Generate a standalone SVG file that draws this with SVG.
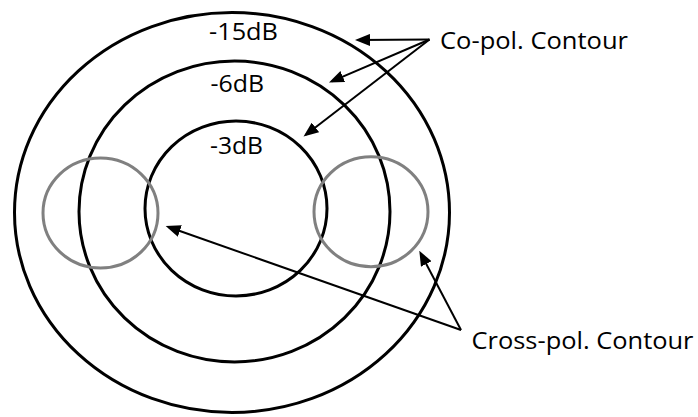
<svg xmlns="http://www.w3.org/2000/svg" width="698" height="417" viewBox="0 0 698 417">
<style>
.co{fill:none;stroke:#000;stroke-width:3}
.xp{fill:none;stroke:#808080;stroke-width:3}
.lbl{font-family:"Open Sans","Liberation Sans",sans-serif;font-size:23px;fill:#000}
.ar{fill:none;stroke:#000;stroke-width:2;marker-end:url(#ah)}
</style>
<defs>
<marker id="ah" markerUnits="userSpaceOnUse" markerWidth="15" markerHeight="12" refX="12" refY="6" orient="auto" viewBox="0 0 15 12">
<path d="M0,0 L15,6 L0,12 z" fill="#000"/>
</marker>
</defs>
<rect width="698" height="417" fill="#fff"/>
<g id="contour-15dB"><ellipse class="co" cx="232" cy="212.5" rx="217.5" ry="200"/><text class="lbl" x="209" y="39.5" textLength="69" lengthAdjust="spacingAndGlyphs">-15dB</text></g>
<g id="contour-6dB"><ellipse class="co" cx="234.5" cy="211.5" rx="155.5" ry="150.5"/><text class="lbl" x="210.5" y="91.7" textLength="53.5" lengthAdjust="spacingAndGlyphs">-6dB</text></g>
<g id="contour-3dB"><ellipse class="co" cx="236" cy="208.5" rx="91" ry="87.5"/><text class="lbl" x="210" y="154" textLength="53" lengthAdjust="spacingAndGlyphs">-3dB</text></g>
<g id="xpol-left"><ellipse class="xp" cx="100.5" cy="213" rx="57.5" ry="55"/></g>
<g id="xpol-right"><ellipse class="xp" cx="371" cy="211.7" rx="57" ry="55"/></g>
<g id="copol-label"><text class="lbl" x="440" y="49.3" textLength="188" lengthAdjust="spacingAndGlyphs">Co-pol. Contour</text></g>
<g id="xpol-label"><text class="lbl" x="471.5" y="349.3" textLength="222" lengthAdjust="spacingAndGlyphs">Cross-pol. Contour</text></g>
<g id="connectors">
<line class="ar" x1="429.5" y1="39.5" x2="358" y2="40"/>
<line class="ar" x1="429.5" y1="39.5" x2="331.75" y2="81.3"/>
<line class="ar" x1="429.5" y1="39.5" x2="305.9" y2="134.7"/>
<line class="ar" x1="461" y1="330" x2="168.5" y2="227"/>
<line class="ar" x1="461" y1="330" x2="420.7" y2="253.4"/>
</g>
</svg>
